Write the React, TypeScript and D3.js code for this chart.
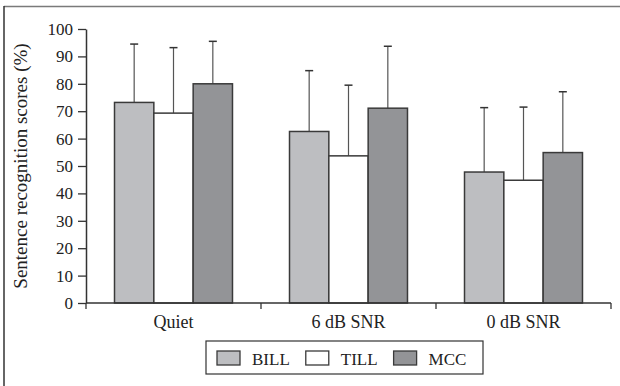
import React, { useRef, useEffect } from 'react';
import * as d3 from 'd3';

const conditions = ['Quiet', '6 dB SNR', '0 dB SNR'];
const seriesNames = ['BILL', 'TILL', 'MCC'];
const meanBILL = [73.2, 62.6, 47.8];
const meanTILL = [69.3, 53.7, 44.8];
const meanMCC = [80, 71.1, 54.9];
const errTopBILL = [94.5, 84.8, 71.3];
const errTopTILL = [93.2, 79.5, 71.5];
const errTopMCC = [95.5, 93.7, 77.1];
const yTicks = [0, 10, 20, 30, 40, 50, 60, 70, 80, 90, 100];

const fills = { BILL: '#bdbec1', TILL: '#ffffff', MCC: '#939497' };
const serif = '"Liberation Serif", "DejaVu Serif", serif';

const App = () => {
  const chartRef = useRef(null);

  useEffect(() => {
    const svg = d3.select(chartRef.current);
    svg.selectAll('*').remove();

    const means = { BILL: meanBILL, TILL: meanTILL, MCC: meanMCC };
    const tops = { BILL: errTopBILL, TILL: errTopTILL, MCC: errTopMCC };

    const x = d3.scaleBand().domain(conditions).range([86, 611]);
    const xs = d3
      .scaleBand()
      .domain(seriesNames)
      .range([0, x.bandwidth()])
      .paddingInner(0)
      .paddingOuter(0.725);
    const y = d3.scaleLinear().domain([0, 100]).range([303, 29]);

    // frame (only top and left edges are visible)
    svg.append('line').attr('x1', 4).attr('x2', 620).attr('y1', 6.5).attr('y2', 6.5)
      .attr('stroke', '#7a7a7a').attr('stroke-width', 1.5);
    svg.append('line').attr('x1', 4).attr('x2', 4).attr('y1', 6).attr('y2', 386)
      .attr('stroke', '#333').attr('stroke-width', 1.5);

    // error bars (upper only)
    const groups = svg.append('g');
    seriesNames.forEach(s => {
      conditions.forEach((c, i) => {
        const cx = x(c) + xs(s) + xs.bandwidth() / 2;
        groups.append('line')
          .attr('x1', cx).attr('x2', cx)
          .attr('y1', y(means[s][i])).attr('y2', y(tops[s][i]))
          .attr('stroke', '#555').attr('stroke-width', 1.2);
        groups.append('line')
          .attr('x1', cx - 4).attr('x2', cx + 4)
          .attr('y1', y(tops[s][i])).attr('y2', y(tops[s][i]))
          .attr('stroke', '#333').attr('stroke-width', 1.5);
      });
    });

    // bars
    seriesNames.forEach(s => {
      groups.append('g')
        .selectAll('rect')
        .data(conditions)
        .enter()
        .append('rect')
        .attr('x', c => x(c) + xs(s))
        .attr('y', (c, i) => y(means[s][i]))
        .attr('width', xs.bandwidth())
        .attr('height', (c, i) => y(0) - y(means[s][i]))
        .attr('fill', fills[s])
        .attr('stroke', '#3a3a3a')
        .attr('stroke-width', 1.5);
    });

    // y axis
    const yAxis = svg.append('g')
      .attr('transform', 'translate(86,0)')
      .call(d3.axisLeft(y).tickValues(yTicks).tickSize(8).tickSizeOuter(0).tickPadding(5));
    yAxis.select('.domain').attr('stroke', '#333').attr('stroke-width', 1.5);
    yAxis.selectAll('.tick line').attr('stroke', '#333').attr('stroke-width', 1.3);
    yAxis.selectAll('.tick text')
      .attr('font-family', serif).attr('font-size', 17).attr('fill', '#222');

    // x axis
    const xAxis = svg.append('g');
    xAxis.append('line')
      .attr('x1', x.range()[0]).attr('x2', x.range()[1])
      .attr('y1', y(0)).attr('y2', y(0))
      .attr('stroke', '#333').attr('stroke-width', 1.5);
    const bounds = conditions.map(c => x(c)).concat([x.range()[1]]);
    xAxis.selectAll('line.tk').data(bounds).enter().append('line')
      .attr('class', 'tk')
      .attr('x1', d => d).attr('x2', d => d)
      .attr('y1', y(0)).attr('y2', y(0) + 6)
      .attr('stroke', '#333').attr('stroke-width', 1.3);
    xAxis.selectAll('text').data(conditions).enter().append('text')
      .attr('x', c => x(c) + x.bandwidth() / 2)
      .attr('y', 328)
      .attr('text-anchor', 'middle')
      .attr('font-family', serif).attr('font-size', 18).attr('fill', '#222')
      .text(c => c);

    // y title
    svg.append('text')
      .attr('transform', 'translate(27,' + (y(0) + y(100)) / 2 + ') rotate(-90)')
      .attr('text-anchor', 'middle')
      .attr('font-family', serif).attr('font-size', 19).attr('fill', '#222')
      .text('Sentence recognition scores (%)');

    // legend
    const legend = svg.append('g');
    legend.append('rect')
      .attr('x', 206).attr('y', 341).attr('width', 277).attr('height', 33)
      .attr('fill', 'none').attr('stroke', '#333').attr('stroke-width', 1.2);
    let lx = 217;
    seriesNames.forEach(s => {
      legend.append('rect')
        .attr('x', lx).attr('y', 351).attr('width', 23).attr('height', 14)
        .attr('fill', fills[s]).attr('stroke', '#3a3a3a').attr('stroke-width', 1.3);
      const t = legend.append('text')
        .attr('x', lx + 35).attr('y', 365)
        .attr('font-family', serif).attr('font-size', 17).attr('fill', '#222')
        .text(s);
      lx = lx + 35 + t.node().getComputedTextLength() + 16;
    });
  });

  return (
    <svg
      ref={chartRef}
      width="620"
      height="386"
      style={{ position: 'absolute', left: 0, top: 0, background: '#fff' }}
    />
  );
};

export default App;
